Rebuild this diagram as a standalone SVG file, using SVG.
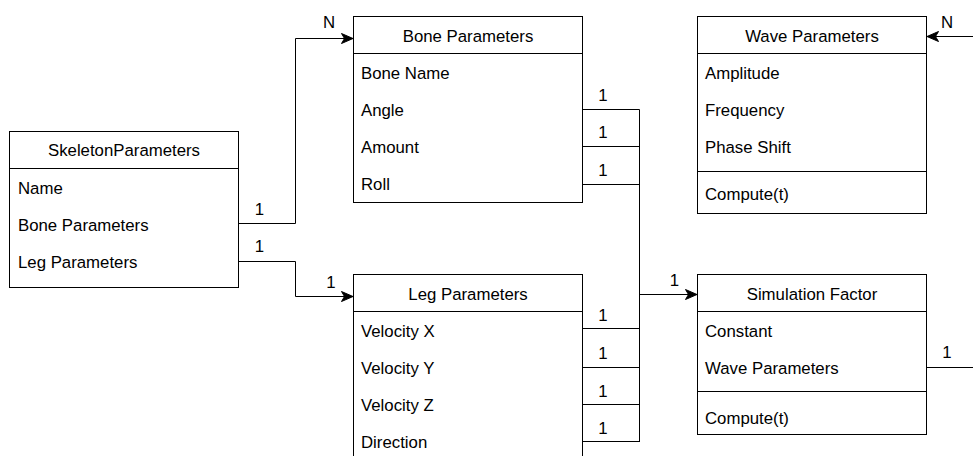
<svg xmlns="http://www.w3.org/2000/svg" width="973" height="456" viewBox="0 0 973 456">
<defs>
<style>
.box{fill:#fff;stroke:#000;stroke-width:1}
.ln{fill:none;stroke:#000;stroke-width:1}
text{font-family:"Liberation Sans",Arial,sans-serif;font-size:16.8px;fill:#000}
.h{text-anchor:middle}
.lb{text-anchor:middle}
</style>
<marker id="arr" markerUnits="userSpaceOnUse" markerWidth="13" markerHeight="11" viewBox="0 0 13 11" refX="12" refY="5.5" orient="auto">
<path d="M0.5,0.5 L12,5.5 L0.5,10.5 L3.5,5.5 Z" fill="#000" stroke="#000" stroke-width="1"/>
</marker>
</defs>
<rect width="973" height="456" fill="#fff"/>

<g id="skeleton">
<rect class="box" x="9.5" y="131.5" width="229" height="156"/>
<line class="ln" x1="9.5" y1="168.5" x2="238.5" y2="168.5"/>
<text class="h" x="124" y="156">SkeletonParameters</text>
<text x="18" y="194">Name</text>
<text x="18" y="231">Bone Parameters</text>
<text x="18" y="268">Leg Parameters</text>
</g>

<g id="bone">
<rect class="box" x="353.5" y="16.5" width="229" height="186"/>
<line class="ln" x1="353.5" y1="53.5" x2="582.5" y2="53.5"/>
<text class="h" x="468" y="41.5">Bone Parameters</text>
<text x="361" y="79">Bone Name</text>
<text x="361" y="116">Angle</text>
<text x="361" y="153">Amount</text>
<text x="361" y="190">Roll</text>
</g>

<g id="wave">
<rect class="box" x="697.5" y="16.5" width="229" height="197"/>
<line class="ln" x1="697.5" y1="53.5" x2="926.5" y2="53.5"/>
<line class="ln" x1="697.5" y1="171.5" x2="926.5" y2="171.5"/>
<text class="h" x="812" y="41.5">Wave Parameters</text>
<text x="705" y="79">Amplitude</text>
<text x="705" y="116">Frequency</text>
<text x="705" y="153">Phase Shift</text>
<text x="705" y="200">Compute(t)</text>
</g>

<g id="leg">
<rect class="box" x="353.5" y="274.5" width="229" height="190"/>
<line class="ln" x1="353.5" y1="311.5" x2="582.5" y2="311.5"/>
<text class="h" x="468" y="299.5">Leg Parameters</text>
<text x="361" y="337">Velocity X</text>
<text x="361" y="374">Velocity Y</text>
<text x="361" y="411">Velocity Z</text>
<text x="361" y="448">Direction</text>
</g>

<g id="simulation">
<rect class="box" x="697.5" y="274.5" width="229" height="160"/>
<line class="ln" x1="697.5" y1="311.5" x2="926.5" y2="311.5"/>
<line class="ln" x1="697.5" y1="391.5" x2="926.5" y2="391.5"/>
<text class="h" x="812" y="299.5">Simulation Factor</text>
<text x="705" y="337">Constant</text>
<text x="705" y="374">Wave Parameters</text>
<text x="705" y="423.5">Compute(t)</text>
</g>

<g id="connectors">
<path class="ln" d="M238.5,223.5 H295.5 V38.5 H353" marker-end="url(#arr)"/>
<path class="ln" d="M238.5,261.5 H295.5 V296.5 H353" marker-end="url(#arr)"/>
<path class="ln" d="M582.5,109.5 H639.5 V442"/>
<path class="ln" d="M582.5,146.5 H639.5"/>
<path class="ln" d="M582.5,184.5 H639.5"/>
<path class="ln" d="M582.5,328.5 H639.5"/>
<path class="ln" d="M582.5,367.5 H639.5"/>
<path class="ln" d="M582.5,404.5 H639.5"/>
<path class="ln" d="M582.5,441.5 H639.5"/>
<path class="ln" d="M639.5,294.5 H697" marker-end="url(#arr)"/>
<path class="ln" d="M973,36.5 H927" marker-end="url(#arr)"/>
<path class="ln" d="M926.5,367.5 H973"/>
<text class="lb" x="259.5" y="214.5">1</text>
<text class="lb" x="259.5" y="252">1</text>
<text class="lb" x="331" y="288">1</text>
<text class="lb" x="329" y="27.5">N</text>
<text class="lb" x="603" y="100.5">1</text>
<text class="lb" x="603" y="137.5">1</text>
<text class="lb" x="603" y="175.5">1</text>
<text class="lb" x="603" y="320.5">1</text>
<text class="lb" x="603" y="358.5">1</text>
<text class="lb" x="603" y="396.5">1</text>
<text class="lb" x="603" y="433.5">1</text>
<text class="lb" x="674.5" y="285.5">1</text>
<text class="lb" x="947" y="27.5">N</text>
<text class="lb" x="947" y="357.5">1</text>
</g>
</svg>
